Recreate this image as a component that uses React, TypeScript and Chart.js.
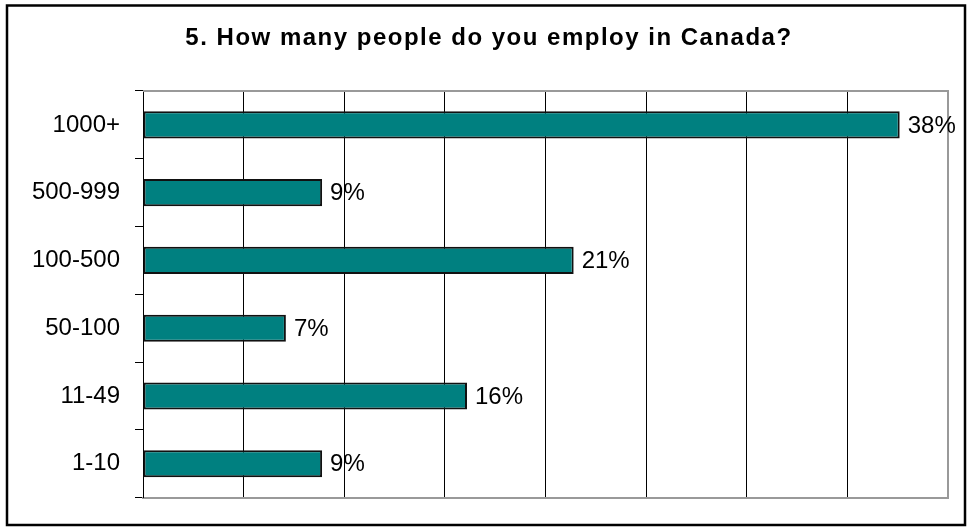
import React, { useEffect, useRef } from "react";
import { Chart, registerables } from "chart.js";

Chart.register(...registerables);

const TITLE = "5. How many people do you employ in Canada?";
const categories = ["1000+", "500-999", "100-500", "50-100", "11-49", "1-10"];
const shares = [37.6, 8.9, 21.4, 7.1, 16.1, 8.9];
const axisMin = 0;
const axisMax = 40;
const axisStep = 5;

const FONT = '"Liberation Sans", Arial, sans-serif';

const decorPlugin = {
  id: "decor",
  beforeDraw(chart: any) {
    const { ctx, width, height } = chart;
    ctx.save();
    ctx.fillStyle = "#fff";
    ctx.fillRect(0, 0, width, height);
    ctx.restore();
  },
  afterDraw(chart: any) {
    const { ctx, chartArea } = chart;
    ctx.save();
    // outer frame
    ctx.strokeStyle = "#000";
    ctx.lineWidth = 2.5;
    ctx.strokeRect(7, 5.5, 958, 519.5);
    // plot top and right border
    ctx.strokeStyle = "#999";
    ctx.lineWidth = 2;
    ctx.beginPath();
    ctx.moveTo(chartArea.left, chartArea.top);
    ctx.lineTo(chartArea.right, chartArea.top);
    ctx.lineTo(chartArea.right, chartArea.bottom);
    ctx.stroke();
    // title
    ctx.fillStyle = "#000";
    ctx.font = `bold 24px ${FONT}`;
    try {
      (ctx as any).letterSpacing = "1.5px";
    } catch (e) {}
    ctx.textAlign = "center";
    ctx.textBaseline = "alphabetic";
    ctx.fillText(TITLE, 489, 45);
    try {
      (ctx as any).letterSpacing = "0px";
    } catch (e) {}
    // data labels
    const meta = chart.getDatasetMeta(0);
    ctx.font = `24px ${FONT}`;
    ctx.textAlign = "left";
    ctx.textBaseline = "middle";
    meta.data.forEach((bar: any, i: number) => {
      const v = chart.data.datasets[0].data[i];
      ctx.fillText(`${Math.round(v)}%`, bar.x + 8, bar.y + 1);
    });
    ctx.restore();
  },
};

export default function App() {
  const ref = useRef<HTMLCanvasElement | null>(null);
  useEffect(() => {
    document.body.style.margin = "0";
    const canvas = ref.current;
    if (!canvas) return;
    const chart = new Chart(canvas, {
      type: "bar",
      data: {
        labels: categories,
        datasets: [
          {
            data: shares,
            backgroundColor: "#008080",
            borderColor: "#111",
            borderWidth: 2,
            borderSkipped: false,
            barPercentage: 0.4,
            categoryPercentage: 1,
          },
        ],
      },
      options: {
        indexAxis: "y",
        responsive: false,
        animation: false,
        layout: { padding: { top: 91, right: 21, bottom: 22, left: 0 } },
        plugins: {
          legend: { display: false },
          title: { display: false },
          tooltip: { enabled: false },
        },
        scales: {
          x: {
            min: axisMin,
            max: axisMax,
            ticks: { display: false, stepSize: axisStep },
            grid: {
              drawTicks: false,
              color: (c: any) => (c.tick && c.tick.value === axisMax ? "#999" : "#000"),
              lineWidth: (c: any) => (c.tick && c.tick.value === axisMax ? 2 : 1),
            },
            border: { display: true, color: "#999", width: 2 },
            afterFit(scale: any) {
              scale.height = 0;
            },
          },
          y: {
            ticks: {
              color: "#000",
              font: { family: FONT, size: 24 },
              padding: 15,
            },
            grid: {
              drawOnChartArea: false,
              drawTicks: true,
              tickLength: 8,
              color: "#000",
              offset: true,
            },
            border: { display: true, color: "#000", width: 1 },
            afterFit(scale: any) {
              scale.width = 143;
            },
          },
        },
      },
      plugins: [decorPlugin],
    });
    return () => chart.destroy();
  }, []);
  return (
    <canvas
      ref={ref}
      width={969}
      height={527}
      style={{ display: "block", width: 969, height: 527 }}
    />
  );
}
